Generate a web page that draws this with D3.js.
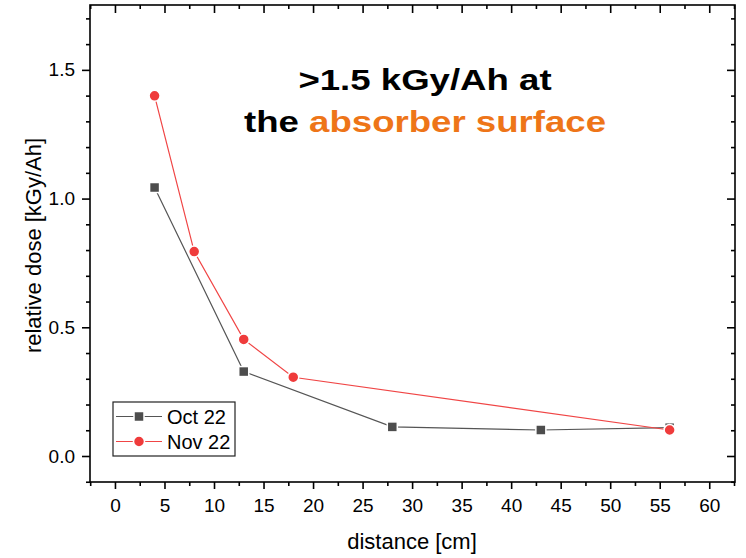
<!DOCTYPE html>
<html>
<head>
<meta charset="utf-8">
<script src="https://cdn.jsdelivr.net/npm/d3@7"></script>
<style>
  body { margin: 0; background: #fff; }
  text { font-family: "Liberation Sans", Arial, sans-serif; }
</style>
</head>
<body>
<div class="chart"></div>
<script>
// data
const octX = [4, 13, 28, 43, 56];
const octY = [1.043, 0.328, 0.113, 0.101, 0.11];
const novX = [4, 8, 13, 18, 56];
const novY = [1.399, 0.794, 0.453, 0.306, 0.101];
const xTicks = [0, 5, 10, 15, 20, 25, 30, 35, 40, 45, 50, 55, 60];
const yTicks = [0.0, 0.5, 1.0, 1.5];
const seriesNames = ["Oct 22", "Nov 22"];

const width = 746, height = 558;
const pLeft = 90, pTop = 5, pRight = 735, pBottom = 482;

const svg = d3.select(".chart").append("svg")
  .attr("width", width)
  .attr("height", height);

const x = d3.scaleLinear().domain([-2.52, 62.6]).range([pLeft, pRight]);
const y = d3.scaleLinear().domain([-0.101, 1.752]).range([pBottom, pTop]);

const xMinor = d3.range(-2.5, 62.6, 2.5).filter(v => Math.abs(v % 5) > 0.01);
const yMinor = d3.range(-0.1, 1.75, 0.1).filter(v => Math.abs(Math.round(v * 10) % 5) !== 0);

// frame
svg.append("rect")
  .attr("x", pLeft).attr("y", pTop)
  .attr("width", pRight - pLeft).attr("height", pBottom - pTop)
  .attr("fill", "none").attr("stroke", "#000").attr("stroke-width", 1.6);

// bottom axis
const gx = svg.append("g").attr("transform", `translate(0,${pBottom})`)
  .call(d3.axisBottom(x).tickValues(xTicks).tickSize(7).tickPadding(10).tickFormat(d3.format("d")));
gx.select(".domain").remove();
svg.append("g").attr("transform", `translate(0,${pBottom})`)
  .call(d3.axisBottom(x).tickValues(xMinor).tickSize(4).tickFormat(""))
  .select(".domain").remove();

// top mirror ticks (inward)
svg.append("g").attr("transform", `translate(0,${pTop})`)
  .call(d3.axisBottom(x).tickValues(xTicks).tickSize(8).tickFormat(""))
  .select(".domain").remove();
svg.append("g").attr("transform", `translate(0,${pTop})`)
  .call(d3.axisBottom(x).tickValues(xMinor).tickSize(4).tickFormat(""))
  .select(".domain").remove();

// left axis
const gy = svg.append("g").attr("transform", `translate(${pLeft},0)`)
  .call(d3.axisLeft(y).tickValues(yTicks).tickSize(8).tickPadding(7).tickFormat(d3.format(".1f")));
gy.select(".domain").remove();
svg.append("g").attr("transform", `translate(${pLeft},0)`)
  .call(d3.axisLeft(y).tickValues(yMinor).tickSize(4).tickFormat(""))
  .select(".domain").remove();

// right mirror ticks (inward)
svg.append("g").attr("transform", `translate(${pRight},0)`)
  .call(d3.axisLeft(y).tickValues(yTicks).tickSize(8).tickFormat(""))
  .select(".domain").remove();
svg.append("g").attr("transform", `translate(${pRight},0)`)
  .call(d3.axisLeft(y).tickValues(yMinor).tickSize(4).tickFormat(""))
  .select(".domain").remove();

svg.selectAll(".tick line").attr("stroke", "#000").attr("stroke-width", 1.6);
svg.selectAll(".tick text")
  .attr("fill", "#000")
  .style("font-size", "19px")
  .style("font-family", "Liberation Sans, Arial, sans-serif");

// axis titles
svg.append("text")
  .attr("x", 412).attr("y", 549)
  .attr("text-anchor", "middle")
  .style("font-size", "22px")
  .text("distance [cm]");

svg.append("text")
  .attr("transform", `translate(41,${(pTop + pBottom) / 2 + 2}) rotate(-90)`)
  .attr("text-anchor", "middle")
  .style("font-size", "22px")
  .text("relative dose [kGy/Ah]");

// series
const oct = octX.map((d, i) => ({ x: d, y: octY[i] }));
const nov = novX.map((d, i) => ({ x: d, y: novY[i] }));
const line = d3.line().x(d => x(d.x)).y(d => y(d.y));

svg.append("path").datum(oct)
  .attr("d", line).attr("fill", "none")
  .attr("stroke", "#555").attr("stroke-width", 1.2);

svg.selectAll("rect.oct").data(oct).enter().append("rect")
  .attr("class", "oct")
  .attr("x", d => x(d.x) - 5).attr("y", d => y(d.y) - 5)
  .attr("width", 10).attr("height", 10)
  .attr("fill", "#4d4d4d").attr("stroke", "#fff").attr("stroke-width", 1.5);

svg.append("path").datum(nov)
  .attr("d", line).attr("fill", "none")
  .attr("stroke", "#f04545").attr("stroke-width", 1.2);

svg.selectAll("circle.nov").data(nov).enter().append("circle")
  .attr("class", "nov")
  .attr("cx", d => x(d.x)).attr("cy", d => y(d.y))
  .attr("r", 5.5)
  .attr("fill", "#ef3b3b").attr("stroke", "#fff").attr("stroke-width", 1.5);

// legend
const lg = svg.append("g");
lg.append("rect")
  .attr("x", 113).attr("y", 402).attr("width", 122).attr("height", 54)
  .attr("fill", "#fff").attr("stroke", "#222").attr("stroke-width", 1.2);
const rowY = [416.5, 441.5];
lg.append("line").attr("x1", 116).attr("x2", 162).attr("y1", rowY[0]).attr("y2", rowY[0])
  .attr("stroke", "#555").attr("stroke-width", 1.2);
lg.append("rect").attr("x", 134).attr("y", rowY[0] - 5).attr("width", 10).attr("height", 10)
  .attr("fill", "#4d4d4d").attr("stroke", "#fff").attr("stroke-width", 1.5);
lg.append("line").attr("x1", 116).attr("x2", 162).attr("y1", rowY[1]).attr("y2", rowY[1])
  .attr("stroke", "#f04545").attr("stroke-width", 1.2);
lg.append("circle").attr("cx", 139).attr("cy", rowY[1]).attr("r", 5.5)
  .attr("fill", "#ef3b3b").attr("stroke", "#fff").attr("stroke-width", 1.5);
lg.selectAll("text.lab").data(seriesNames).enter().append("text")
  .attr("class", "lab")
  .attr("x", 167).attr("y", (d, i) => rowY[i] + 7)
  .style("font-size", "20px")
  .text(d => d);

// annotation (wide bold lettering, as in the reference)
const note = svg.append("g")
  .attr("transform", "translate(425,0) scale(1.22,1)")
  .append("text")
  .attr("text-anchor", "middle")
  .style("font-size", "30px").style("font-weight", "bold");
note.append("tspan").attr("x", 0).attr("y", 90).text(">1.5 kGy/Ah at");
note.append("tspan").attr("x", 0).attr("y", 132).text("the ");
note.append("tspan").attr("fill", "#ee7518").text("absorber surface");
</script>
</body>
</html>
